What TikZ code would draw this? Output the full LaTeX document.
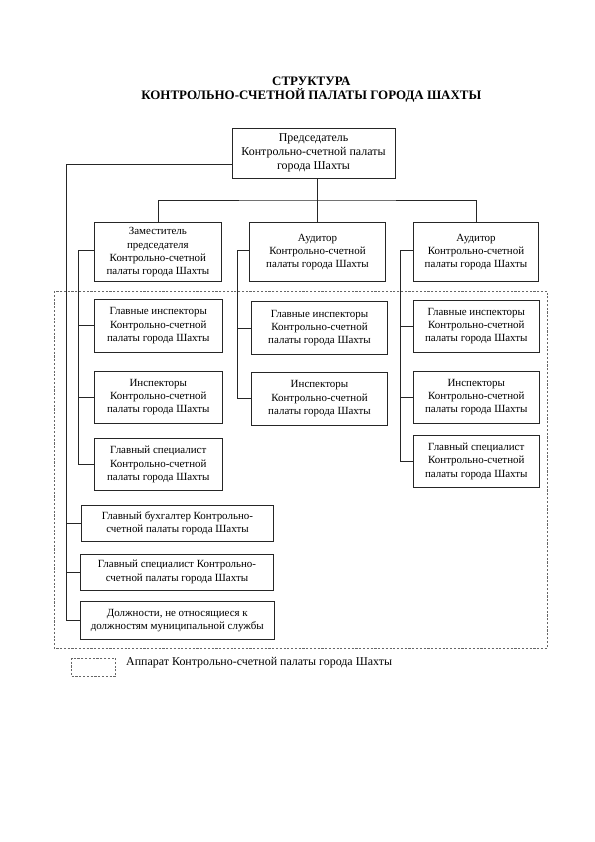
\documentclass[tikz,border=0pt]{standalone}
\usepackage{fontspec}
\setmainfont{Liberation Serif}
\begin{document}
\begin{tikzpicture}[x=1bp,y=-1bp,
  box/.style={draw=black!85, line width=0.7pt, inner sep=0pt, align=center,
    font=\fontsize{11}{13.3}\selectfont},
  topbox/.style={box, font=\fontsize{12}{14}\selectfont},
  conn/.style={draw=black!85, line width=0.7pt},
  frame/.style={draw=black!60, line width=0.6pt, dash pattern=on 2.2pt off 1.6pt}]
\useasboundingbox (0,0) rectangle (595,842);
% title
\node[font=\bfseries\fontsize{13}{14.5}\selectfont, align=center] (title) at (311.3,89.5)
  {СТРУКТУРА\\КОНТРОЛЬНО-СЧЕТНОЙ ПАЛАТЫ ГОРОДА ШАХТЫ};
% top
\node[topbox, minimum width=163bp, minimum height=50bp] (top) at (313.5,153)
  {Председатель\\Контрольно-счетной палаты\\города Шахты};
% middle level
\node[box, minimum width=127.7bp, minimum height=59bp] (A) at (157.9,252.2)
  {Заместитель\\председателя\\Контрольно-счетной\\палаты города Шахты};
\node[box, minimum width=136.4bp, minimum height=59bp] (B) at (317.5,252.2)
  {Аудитор\\Контрольно-счетной\\палаты города Шахты};
\node[box, minimum width=124.6bp, minimum height=59bp] (C) at (476,252.2)
  {Аудитор\\Контрольно-счетной\\палаты города Шахты};
% left column
\node[box, minimum width=128bp, minimum height=53.5bp] (L1) at (158.3,325.8)
  {Главные инспекторы\\Контрольно-счетной\\палаты города Шахты};
\node[box, minimum width=128bp, minimum height=52.3bp] (L2) at (158.3,397.2)
  {Инспекторы\\Контрольно-счетной\\палаты города Шахты};
\node[box, minimum width=128bp, minimum height=52.4bp] (L3) at (158.3,464.5)
  {Главный специалист\\Контрольно-счетной\\палаты города Шахты};
% middle column
\node[box, minimum width=135.6bp, minimum height=52.6bp] (M1) at (319.5,328)
  {Главные инспекторы\\Контрольно-счетной\\палаты города Шахты};
\node[box, minimum width=135.6bp, minimum height=52.3bp] (M2) at (319.5,398.8)
  {Инспекторы\\Контрольно-счетной\\палаты города Шахты};
% right column
\node[box, minimum width=126bp, minimum height=52.7bp] (R1) at (476.3,326.3)
  {Главные инспекторы\\Контрольно-счетной\\палаты города Шахты};
\node[box, minimum width=126bp, minimum height=52.3bp] (R2) at (476.3,397.2)
  {Инспекторы\\Контрольно-счетной\\палаты города Шахты};
\node[box, minimum width=126bp, minimum height=52.7bp] (R3) at (476.3,461.3)
  {Главный специалист\\Контрольно-счетной\\палаты города Шахты};
% bottom boxes
\node[box, minimum width=192bp, minimum height=36.7bp] (B1) at (177.5,523.3)
  {Главный бухгалтер Контрольно-\\счетной палаты города Шахты};
\node[box, minimum width=192.6bp, minimum height=36bp] (B2) at (177,572)
  {Главный специалист Контрольно-\\счетной палаты города Шахты};
\node[box, minimum width=193.3bp, minimum height=37.6bp] (B3) at (177.3,620.5)
  {Должности, не относящиеся к\\должностям муниципальной службы};
% connectors
\coordinate (sp) at (66,0);
\coordinate (sa) at (78.3,0);
\coordinate (sb) at (237.5,0);
\coordinate (sc) at (400.7,0);
\coordinate (bar) at (317.5,200);
\draw[conn] (top.south -| B.north) -- (B.north);
\draw[conn] (A.north) |- (bar) -| (C.north);
\draw[conn] ([yshift=-11bp]top.west) -| (sp |- B3.west) -- (B3.west);
\draw[conn] (sp |- B1.west) -- (B1.west);
\draw[conn] (sp |- B2.west) -- (B2.west);
\draw[conn] ([yshift=2bp]A.west) -| (sa |- L3.west) -- (L3.west);
\draw[conn] (sa |- L1.west) -- (L1.west);
\draw[conn] (sa |- L2.west) -- (L2.west);
\draw[conn] ([yshift=2bp]B.west) -| (sb |- M2.west) -- (M2.west);
\draw[conn] (sb |- M1.west) -- (M1.west);
\draw[conn] ([yshift=2bp]C.west) -| (sc |- R3.west) -- (R3.west);
\draw[conn] (sc |- R1.west) -- (R1.west);
\draw[conn] (sc |- R2.west) -- (R2.west);
% apparatus frame
\draw[frame] (54,291) rectangle (547,648.3);
% legend
\node[frame, minimum width=44bp, minimum height=18.4bp, inner sep=0pt] (lg) at (93.7,667.5) {};
\node[anchor=west, font=\fontsize{12}{14}\selectfont, inner sep=0pt] (lgt) at (126,663) {Аппарат Контрольно-счетной палаты города Шахты};
\end{tikzpicture}
\end{document}
